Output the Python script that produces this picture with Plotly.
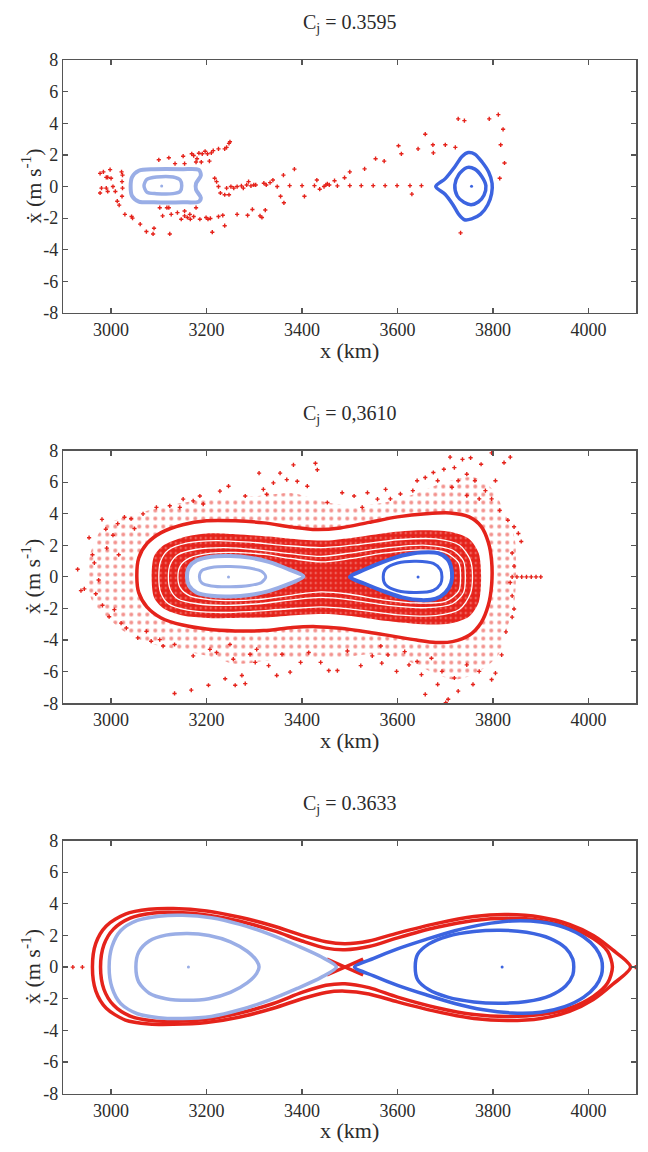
import plotly.graph_objects as go

# ---------------- DATA (x in km, xdot in m/s) ----------------
TITLES = ["C<sub>j</sub> = 0.3595", "C<sub>j</sub> = 0,3610", "C<sub>j</sub> = 0.3633"]
X_TICKS = [3000, 3200, 3400, 3600, 3800, 4000]
X_TICK_TEXT = ["3000", "3200", "3400", "3600", "3800", "4000"]
Y_TICKS = [8, 6, 4, 2, 0, -2, -4, -6, -8]
Y_TICK_TEXT = ["8", "6", "4", "2", "0", "-2", "-4", "-6", "-8"]
X_RANGE = [2900, 4100]
Y_RANGE = [-8, 8]

# Panel 1 : Cj = 0.3595
P1_CHAOS = [
    (2977, 0.83), (2984, 0.93), (2990, 0.58), (2993, 0.58), (2998, 1.07), (3000, 0.52), (2980, -0.10),
    (2977, -0.41), (2990, -0.10), (2993, -0.31), (3004, 0.0), (3009, -0.31), (3013, -0.93), (3017, -1.18),
    (3022, 0.93), (3024, 0.72), (3023, 0.31), (3024, -0.10), (3023, -0.62), (3029, -1.76), (3043, -1.90),
    (3045, -2.00), (3061, -2.38), (3074, -2.85), (3088, -3.00), (3090, -2.64), (3123, -3.00),
    (3100, 1.69), (3121, 1.82), (3134, 1.45), (3151, 1.92), (3154, 1.45), (3169, 2.07), (3173, 1.96),
    (3178, 1.55), (3180, 1.76), (3184, 2.11), (3189, 1.55), (3191, 2.07), (3197, 2.23), (3202, 2.07),
    (3206, 1.61), (3210, 2.13), (3214, 2.27), (3225, 2.38), (3238, 2.38), (3242, 2.48), (3247, 2.73),
    (3249, 2.83),
    (3102, -1.34), (3108, -1.86), (3117, -1.34), (3121, -1.34), (3126, -1.76), (3139, -1.65), (3147, -2.07),
    (3154, -1.86), (3160, -1.96), (3154, -1.55), (3165, -1.76), (3166, -2.07), (3173, -1.90), (3178, -1.34),
    (3186, -2.07), (3199, -1.96), (3203, -2.07), (3208, -2.02), (3225, -1.90), (3234, -1.82), (3238, -2.48),
    (3212, -2.89), (3264, -1.76), (3286, -1.82), (3296, -1.45), (3312, -1.86), (3316, -1.96), (3323, -1.49),
    (3217, 0.52), (3221, 0.31), (3225, 0.0), (3229, -0.41), (3238, -0.52), (3242, -0.10), (3247, -0.52),
    (3251, 0.0), (3257, -0.10), (3264, 0.0), (3273, 0.04), (3277, -0.10), (3284, 0.10), (3288, 0.31),
    (3293, 0.04), (3299, 0.10), (3303, 0.10), (3320, 0.21), (3325, 0.10), (3333, 0.25), (3339, 0.41),
    (3348, 0.0), (3361, 0.72), (3355, -0.62), (3362, -1.03), (3374, 0.06), (3384, 1.10), (3400, 0.06),
    (3405, -0.62), (3426, 0.06), (3431, 0.41), (3437, -0.17), (3446, 0.0), (3450, 0.10), (3453, 0.17),
    (3457, 0.10), (3468, 0.37), (3474, 0.04), (3489, 0.56), (3500, 0.93), (3500, 0.06), (3524, 0.06),
    (3531, 1.12), (3549, 0.06), (3554, 1.76), (3572, 1.61), (3574, 0.06), (3599, 0.06), (3602, 2.58),
    (3608, 2.07), (3626, 0.06), (3630, -0.48), (3643, 2.38), (3650, 0.06), (3658, 3.31), (3674, 2.64),
    (3675, 2.13), (3700, 2.64), (3721, 2.48), (3727, 4.28), (3740, 4.17), (3792, 4.28), (3811, 4.55),
    (3821, 3.62), (3816, 2.64), (3824, 1.49), (3814, 0.52), (3732, -2.93),
]
P1_LEFT_OUTER = [
    (3041, 0.0), (3044, 0.6), (3058, 1.0), (3090, 1.1), (3150, 1.1), (3184, 1.05), (3188, 0.7), (3178, 0.2),
    (3178, -0.2), (3188, -0.7), (3184, -0.95), (3150, -1.0), (3090, -1.0), (3058, -0.95), (3044, -0.6), (3041, 0.0),
]
P1_LEFT_INNER = [
    (3069, 0.05), (3075, 0.45), (3095, 0.6), (3130, 0.6), (3145, 0.4), (3148, 0.05), (3145, -0.3),
    (3130, -0.45), (3095, -0.45), (3075, -0.35), (3069, 0.05),
]
P1_LEFT_CENTER = [(3106, 0.03)]
P1_RIGHT_OUTER = [
    (3680, 0.0), (3700, 0.5), (3720, 1.25), (3735, 1.9), (3748, 2.15), (3762, 2.05), (3777, 1.55),
    (3791, 0.9), (3798, 0.2), (3797, -0.45), (3789, -1.15), (3774, -1.75), (3755, -2.05), (3740, -2.1),
    (3729, -1.8), (3715, -1.1), (3700, -0.5), (3680, 0.0),
]
P1_RIGHT_INNER = [
    (3720, 0.1), (3728, 0.75), (3745, 1.2), (3762, 1.1), (3776, 0.65), (3785, 0.05), (3781, -0.55),
    (3769, -0.98), (3754, -1.15), (3739, -1.0), (3725, -0.6), (3720, 0.1),
]
P1_RIGHT_CENTER = [(3755, 0.02)]

# Panel 2 : Cj = 0,3610
P2_HALO_ENVELOPE = [
    (2950, 0.3), (2960, 1.8), (2985, 3.2), (3030, 3.8), (3090, 4.3), (3150, 4.7), (3220, 5.0), (3300, 5.1),
    (3380, 5.3), (3440, 4.8), (3500, 4.5), (3570, 4.7), (3640, 5.3), (3700, 6.0), (3760, 6.3), (3800, 5.5),
    (3825, 4.0), (3845, 2.5), (3848, 0.5), (3845, -1.5), (3830, -3.2), (3810, -5.0), (3770, -6.0),
    (3720, -6.5), (3670, -6.0), (3610, -5.2), (3540, -4.9), (3470, -5.2), (3400, -5.2), (3330, -5.3),
    (3260, -5.5), (3200, -5.0), (3140, -4.6), (3080, -4.2), (3030, -3.5), (2990, -2.5), (2960, -1.5), (2950, 0.3),
]
P2_HALO_POINTS = [
    (2930, 0.48), (2937, -0.87), (2944, -0.76), (2954, 2.48), (2961, 1.40), (2965, 0.89), (2968, -1.07),
    (2974, -0.2), (2981, 3.64), (2982, -1.80), (2989, 3.02), (2991, 1.82), (2996, -2.52), (3004, 2.64),
    (3007, -2.07), (3014, 3.37), (3016, 1.40), (3021, -2.93), (3028, 3.78), (3032, -3.24), (3042, 3.68),
    (3049, 3.06), (3056, -3.86), (3067, 3.99), (3074, -3.45), (3084, -4.07), (3095, 4.40), (3102, -3.97),
    (3109, -4.38), (3123, 4.50), (3133, -4.28), (3133, -7.38), (3144, 4.40), (3151, 4.92), (3168, -7.17),
    (3172, 4.81), (3172, -5.0), (3186, 5.12), (3193, 4.61), (3204, -6.86), (3207, -4.59), (3221, -4.79),
    (3228, 5.43), (3239, -6.45), (3246, 5.74), (3249, -4.28), (3256, -5.21), (3260, -6.86), (3274, -6.24),
    (3281, -6.76), (3281, 5.12), (3291, -4.90), (3302, -5.41), (3305, -4.59), (3310, 6.57), (3319, 5.54),
    (3326, 5.23), (3330, -5.62), (3340, 5.95), (3347, -6.24), (3354, 6.57), (3358, -4.90), (3368, 6.16),
    (3375, -6.03), (3382, 7.09), (3390, 6.05), (3397, -5.41), (3411, 5.74), (3414, -4.79), (3428, 7.19),
    (3432, 6.78), (3439, -5.41), (3453, 4.71), (3456, -5.93), (3474, -5.93), (3484, 5.33), (3495, -4.69),
    (3509, 5.12), (3523, -5.62), (3526, 4.40), (3537, 5.33), (3547, -5.0), (3558, 4.92), (3565, -4.38),
    (3575, 5.54),
    (3632, 5.46), (3641, 6.09), (3658, 6.29), (3675, 6.61), (3684, 6.09), (3697, 6.81), (3710, 7.58),
    (3719, 6.92), (3727, 6.09), (3736, 7.44), (3745, 6.50), (3753, 7.54), (3762, 6.09), (3775, 7.13),
    (3784, 5.46), (3797, 7.85), (3797, 4.94), (3805, 6.09), (3823, 7.23), (3836, 7.58), (3814, 4.21),
    (3831, 3.59), (3844, 3.17), (3853, 2.75), (3859, 2.24), (3840, 1.51), (3844, 0.68), (3836, -0.36),
    (3840, -1.20), (3844, -2.03), (3840, -2.55), (3827, -3.48), (3818, -4.94), (3805, -6.09), (3797, -6.50),
    (3771, -5.98), (3758, -6.81), (3745, -5.57), (3727, -7.23), (3719, -6.40), (3706, -7.75), (3701, -7.96),
    (3693, -5.98), (3684, -6.81), (3671, -5.15), (3658, -7.44), (3650, -6.19), (3641, -5.36), (3624, -5.57),
    (3615, -4.73), (3598, -5.98), (3580, -4.94), (3567, -5.46), (3606, 5.25), (3585, 4.94), (3771, 4.94),
    (3745, 5.15), (3714, 5.67),
    (3840, 0.0), (3850, 0.0), (3860, 0.0), (3870, 0.0), (3880, 0.0), (3890, 0.0), (3900, 0.0),
]
P2_OUTER_LOOP = [
    (3054, 0.0), (3058, 1.2), (3075, 2.1), (3105, 2.8), (3150, 3.3), (3200, 3.55), (3260, 3.55), (3320, 3.42),
    (3380, 3.15), (3430, 3.0), (3480, 3.1), (3540, 3.45), (3600, 3.8), (3660, 4.0), (3710, 4.05), (3750, 3.8),
    (3775, 3.2), (3790, 2.2), (3797, 1.0), (3797, -0.5), (3790, -1.8), (3775, -2.9), (3750, -3.7),
    (3715, -4.1), (3680, -4.15), (3640, -4.0), (3590, -3.75), (3540, -3.5), (3480, -3.25), (3430, -3.15),
    (3380, -3.2), (3320, -3.4), (3260, -3.42), (3200, -3.3), (3150, -3.05), (3105, -2.6), (3075, -1.9),
    (3058, -1.0), (3054, 0.0),
]
P2_BAND = [
    (3085, 0.0), (3090, 1.3), (3110, 2.0), (3150, 2.5), (3200, 2.75), (3260, 2.7), (3330, 2.55), (3400, 2.35),
    (3450, 2.3), (3510, 2.5), (3580, 2.8), (3650, 2.95), (3710, 2.85), (3750, 2.4), (3770, 1.5),
    (3775, 0.0), (3770, -1.6), (3750, -2.5), (3710, -2.95), (3650, -3.0), (3580, -2.8), (3510, -2.5),
    (3450, -2.35), (3400, -2.4), (3330, -2.55), (3260, -2.6), (3200, -2.6), (3150, -2.45), (3110, -2.0),
    (3090, -1.3), (3085, 0.0),
]
P2_GAP_1 = [
    (3100, 0.0), (3104, 1.0), (3120, 1.7), (3160, 2.15), (3220, 2.3), (3290, 2.2), (3360, 2.0), (3440, 1.85),
    (3520, 2.05), (3600, 2.35), (3680, 2.4), (3730, 2.0), (3752, 1.1), (3757, 0.0), (3752, -1.1), (3730, -2.05),
    (3680, -2.45), (3600, -2.4), (3520, -2.1), (3440, -1.9), (3360, -2.05), (3290, -2.2), (3220, -2.25),
    (3160, -2.1), (3120, -1.7), (3104, -1.0), (3100, 0.0),
]
P2_GAP_2 = [
    (3120, 0.0), (3124, 0.8), (3140, 1.4), (3180, 1.75), (3240, 1.85), (3310, 1.7), (3380, 1.45), (3440, 1.3),
    (3500, 1.5), (3580, 1.85), (3660, 2.0), (3715, 1.7), (3738, 1.0), (3742, 0.0), (3738, -1.0), (3715, -1.7),
    (3660, -1.95), (3580, -1.8), (3500, -1.45), (3440, -1.3), (3380, -1.45), (3310, -1.7), (3240, -1.8),
    (3180, -1.7), (3140, -1.4), (3124, -0.8), (3120, 0.0),
]
P2_GAP_3 = [
    (3140, 0.0), (3145, 0.7), (3165, 1.2), (3210, 1.5), (3260, 1.55), (3320, 1.42), (3380, 1.15), (3440, 0.95),
    (3500, 1.15), (3570, 1.5), (3640, 1.7), (3700, 1.55), (3728, 0.9), (3732, 0.0), (3728, -0.9), (3700, -1.55),
    (3640, -1.65), (3570, -1.45), (3500, -1.1), (3440, -0.95), (3380, -1.15), (3320, -1.4), (3260, -1.5),
    (3210, -1.45), (3165, -1.2), (3145, -0.7), (3140, 0.0),
]
P2_LEFT_OUTER = [
    (3159, 0.0), (3163, 0.6), (3180, 1.05), (3210, 1.28), (3250, 1.32), (3290, 1.22), (3330, 0.95),
    (3370, 0.5), (3403, 0.02), (3370, -0.48), (3330, -0.9), (3290, -1.15), (3250, -1.24), (3210, -1.2),
    (3180, -1.0), (3163, -0.55), (3159, 0.0),
]
P2_LEFT_INNER = [
    (3185, 0.0), (3190, 0.4), (3210, 0.6), (3250, 0.66), (3290, 0.56), (3315, 0.35), (3324, 0.0),
    (3315, -0.35), (3290, -0.55), (3250, -0.63), (3210, -0.58), (3190, -0.38), (3185, 0.0),
]
P2_LEFT_CENTER = [(3246, 0.0)]
P2_RIGHT_OUTER = [
    (3500, 0.0), (3530, 0.45), (3570, 0.95), (3610, 1.35), (3650, 1.55), (3685, 1.5), (3705, 1.1),
    (3714, 0.3), (3712, -0.4), (3700, -1.0), (3680, -1.38), (3650, -1.47), (3610, -1.3), (3570, -0.9),
    (3530, -0.42), (3500, 0.0),
]
P2_RIGHT_INNER = [
    (3570, 0.0), (3575, 0.5), (3600, 0.88), (3640, 0.99), (3675, 0.85), (3690, 0.45), (3693, 0.0),
    (3690, -0.45), (3675, -0.85), (3640, -0.99), (3600, -0.88), (3575, -0.5), (3570, 0.0),
]
P2_RIGHT_CENTER = [(3643, 0.0)]

# Panel 3 : Cj = 0.3633
P3_RED_OUTER = [
    (2961, 0.0), (2968, 1.5), (2990, 2.6), (3030, 3.35), (3080, 3.65), (3130, 3.7), (3200, 3.55),
    (3270, 3.15), (3340, 2.6), (3400, 2.0), (3450, 1.6), (3490, 1.48), (3540, 1.65), (3600, 2.15),
    (3680, 2.75), (3760, 3.2), (3830, 3.32), (3900, 3.15), (3960, 2.7), (4010, 2.0), (4050, 1.1), (4088, 0.0),
    (4050, -1.1), (4010, -2.05), (3960, -2.8), (3900, -3.25), (3830, -3.38), (3760, -3.25), (3680, -2.8),
    (3600, -2.2), (3540, -1.7), (3490, -1.52), (3450, -1.6), (3400, -2.0), (3340, -2.6), (3270, -3.15),
    (3200, -3.5), (3130, -3.62), (3080, -3.6), (3030, -3.35), (2990, -2.6), (2968, -1.5), (2961, 0.0),
]
P3_RED_INNER = [
    (2978, 0.0), (2985, 1.4), (3005, 2.4), (3040, 3.1), (3090, 3.42), (3140, 3.45), (3200, 3.3),
    (3270, 2.9), (3340, 2.3), (3400, 1.65), (3450, 1.2), (3490, 1.1), (3540, 1.3), (3600, 1.85),
    (3680, 2.5), (3760, 2.95), (3830, 3.08), (3900, 2.95), (3960, 2.5), (4010, 1.8), (4040, 1.0), (4050, 0.0),
    (4040, -1.0), (4010, -1.85), (3960, -2.6), (3900, -3.0), (3830, -3.12), (3760, -3.0), (3680, -2.55),
    (3600, -1.9), (3540, -1.3), (3490, -1.05), (3450, -1.15), (3400, -1.6), (3340, -2.3), (3270, -2.9),
    (3200, -3.3), (3140, -3.42), (3090, -3.4), (3040, -3.1), (3005, -2.4), (2985, -1.4), (2978, 0.0),
]
P3_SADDLE_A = [(3452, 0.5), (3490, 0.0), (3528, -0.5)]
P3_SADDLE_B = [(3452, -0.5), (3490, 0.0), (3528, 0.5)]
P3_RED_TAIL = [(2920, 0.0), (2940, 0.0), (4098, 0.0)]
P3_LEFT_OUTER = [
    (2996, 0.0), (3002, 1.3), (3020, 2.3), (3055, 2.95), (3100, 3.22), (3150, 3.28), (3210, 3.12),
    (3270, 2.7), (3330, 2.1), (3390, 1.35), (3440, 0.65), (3472, 0.0), (3440, -0.65), (3390, -1.35),
    (3330, -2.1), (3270, -2.7), (3210, -3.12), (3150, -3.25), (3100, -3.2), (3055, -2.95), (3020, -2.3),
    (3002, -1.3), (2996, 0.0),
]
P3_LEFT_INNER = [
    (3052, 0.0), (3058, 0.95), (3080, 1.65), (3115, 2.02), (3160, 2.13), (3205, 2.0), (3250, 1.6),
    (3285, 1.0), (3305, 0.4), (3310, 0.0), (3305, -0.4), (3285, -1.0), (3250, -1.6), (3205, -2.0),
    (3160, -2.1), (3115, -2.0), (3080, -1.65), (3058, -0.95), (3052, 0.0),
]
P3_LEFT_CENTER = [(3162, 0.0)]
P3_RIGHT_OUTER = [
    (3510, 0.0), (3550, 0.55), (3600, 1.15), (3660, 1.75), (3720, 2.3), (3780, 2.7), (3840, 2.92),
    (3900, 2.85), (3950, 2.5), (3990, 1.9), (4015, 1.2), (4027, 0.5), (4029, 0.0), (4027, -0.5),
    (4015, -1.2), (3990, -1.9), (3950, -2.5), (3900, -2.85), (3840, -2.9), (3780, -2.7), (3720, -2.3),
    (3660, -1.75), (3600, -1.15), (3550, -0.55), (3510, 0.0),
]
P3_RIGHT_INNER = [
    (3637, 0.0), (3642, 0.8), (3665, 1.45), (3705, 1.95), (3760, 2.25), (3815, 2.33), (3870, 2.2),
    (3920, 1.8), (3952, 1.2), (3967, 0.5), (3969, 0.0), (3967, -0.5), (3952, -1.2), (3920, -1.8),
    (3870, -2.18), (3815, -2.28), (3760, -2.2), (3705, -1.9), (3665, -1.42), (3642, -0.8), (3637, 0.0),
]
P3_RIGHT_CENTER = [(3819, 0.0)]

# ---------------- STYLE ----------------
RED = "#e5231b"
LIGHT = "#9aaee6"
BLUE = "#3c64e0"
AXIS_COL = "#555555"
TEXT_COL = "#2b2b2b"
FONT = "Liberation Serif"
W, H = 648, 1152
PLOT_L, PLOT_R = 63.3, 636.3
PANELS_PX = [(51.0, 308.3), (448.3, 705.5), (845.2, 1102.8)]

fig = go.Figure()


def xs(pts):
    return [p[0] for p in pts]


def ys(pts):
    return [p[1] for p in pts]


def ax(i):
    return ("x" if i == 0 else f"x{i + 1}"), ("y" if i == 0 else f"y{i + 1}")


def loop(pts, color, width, i, fill=None, spline=True):
    xa, ya = ax(i)
    kw = dict(x=xs(pts), y=ys(pts), mode="lines", xaxis=xa, yaxis=ya, showlegend=False, hoverinfo="skip",
              line=dict(color=color, width=width, shape="spline" if spline else "linear", smoothing=0.8))
    if fill:
        kw.update(fill="toself", fillcolor=fill)
    fig.add_trace(go.Scatter(**kw))


def dots(pts, color, size, i, symbol="cross"):
    xa, ya = ax(i)
    fig.add_trace(go.Scatter(x=xs(pts), y=ys(pts), mode="markers", xaxis=xa, yaxis=ya, showlegend=False,
                             hoverinfo="skip", marker=dict(color=color, size=size, symbol=symbol, line=dict(width=0))))


def pattern_region(pts, i, fill, pattern):
    xa, ya = ax(i)
    fig.add_trace(go.Scatter(x=xs(pts), y=ys(pts), mode="lines", xaxis=xa, yaxis=ya, showlegend=False,
                             hoverinfo="skip", fill="toself", fillcolor=fill,
                             line=dict(width=0, shape="spline", smoothing=0.8), fillpattern=pattern))


# Panel 1
dots(P1_CHAOS, RED, 3.5, 0)
loop(P1_LEFT_OUTER, LIGHT, 4, 0)
loop(P1_LEFT_INNER, LIGHT, 3.5, 0)
dots(P1_LEFT_CENTER, LIGHT, 3, 0, "circle")
loop(P1_RIGHT_OUTER, BLUE, 3.5, 0)
loop(P1_RIGHT_INNER, BLUE, 3.5, 0)
dots(P1_RIGHT_CENTER, BLUE, 3, 0, "circle")

# Panel 2
pattern_region(P2_HALO_ENVELOPE, 1, "rgba(0,0,0,0)",
               dict(shape=".", fgcolor=RED, size=8, solidity=0.2))
dots(P2_HALO_POINTS, RED, 3.5, 1)
loop(P2_OUTER_LOOP, RED, 3.5, 1, fill="white")
pattern_region(P2_BAND, 1, RED,
               dict(shape=".", fgcolor="white", size=5, solidity=0.12, fillmode="overlay"))
loop(P2_GAP_1, "white", 1.3, 1)
loop(P2_GAP_2, "white", 1.3, 1)
loop(P2_GAP_3, "white", 1.3, 1)
loop(P2_LEFT_OUTER, LIGHT, 4, 1, fill="white")
loop(P2_LEFT_INNER, LIGHT, 3, 1)
dots(P2_LEFT_CENTER, LIGHT, 3, 1, "circle")
loop(P2_RIGHT_OUTER, BLUE, 4, 1, fill="white")
loop(P2_RIGHT_INNER, BLUE, 3, 1)
dots(P2_RIGHT_CENTER, BLUE, 3, 1, "circle")

# Panel 3
loop(P3_RED_OUTER, RED, 3.5, 2)
loop(P3_RED_INNER, RED, 3.5, 2)
loop(P3_SADDLE_A, RED, 3.5, 2, spline=False)
loop(P3_SADDLE_B, RED, 3.5, 2, spline=False)
dots(P3_RED_TAIL, RED, 3.5, 2)
loop(P3_LEFT_OUTER, LIGHT, 3.5, 2)
loop(P3_LEFT_INNER, LIGHT, 3.5, 2)
dots(P3_LEFT_CENTER, LIGHT, 3, 2, "circle")
loop(P3_RIGHT_OUTER, BLUE, 3.5, 2)
loop(P3_RIGHT_INNER, BLUE, 3.5, 2)
dots(P3_RIGHT_CENTER, BLUE, 3, 2, "circle")

# ---------------- LAYOUT ----------------
layout = dict(width=W, height=H, paper_bgcolor="white", plot_bgcolor="white",
              margin=dict(l=0, r=0, t=0, b=0), showlegend=False,
              font=dict(family=FONT, color=TEXT_COL, size=18))
annotations = []
for i, (top, bot) in enumerate(PANELS_PX):
    xa, ya = ax(i)
    xkey = "xaxis" if i == 0 else f"xaxis{i + 1}"
    ykey = "yaxis" if i == 0 else f"yaxis{i + 1}"
    common = dict(showline=True, linecolor=AXIS_COL, linewidth=1.5, mirror="ticks", ticks="inside",
                  ticklen=5, tickwidth=1.2, tickcolor=AXIS_COL, showgrid=False, zeroline=False,
                  tickfont=dict(family=FONT, size=18, color=TEXT_COL), fixedrange=True)
    layout[xkey] = dict(common, domain=[PLOT_L / W, PLOT_R / W], range=X_RANGE, tickmode="array",
                        tickvals=X_TICKS, ticktext=X_TICK_TEXT, anchor=ya)
    layout[ykey] = dict(common, domain=[1 - bot / H, 1 - top / H], range=Y_RANGE, tickmode="array",
                        tickvals=Y_TICKS, ticktext=Y_TICK_TEXT, anchor=xa)
    xmid = (PLOT_L + PLOT_R) / 2 / W
    annotations.append(dict(text=TITLES[i], x=xmid, y=1 - (top - 37) / H, xref="paper", yref="paper",
                            showarrow=False, xanchor="center", yanchor="middle",
                            font=dict(family=FONT, size=20, color=TEXT_COL)))
    annotations.append(dict(text="x (km)", x=xmid, y=1 - (bot + 38) / H, xref="paper", yref="paper",
                            showarrow=False, xanchor="center", yanchor="middle",
                            font=dict(family=FONT, size=22, color=TEXT_COL)))
    annotations.append(dict(text="ẋ (m s<sup>-1</sup>)", x=31 / W, y=1 - (top + bot) / 2 / H,
                            xref="paper", yref="paper", showarrow=False, textangle=-90,
                            xanchor="center", yanchor="middle",
                            font=dict(family=FONT, size=22, color=TEXT_COL)))
layout["annotations"] = annotations
fig.update_layout(**layout)

fig.write_html("out.html", config={"displayModeBar": False, "staticPlot": True},
               post_script="document.body.style.margin='0';document.body.style.padding='0';")
